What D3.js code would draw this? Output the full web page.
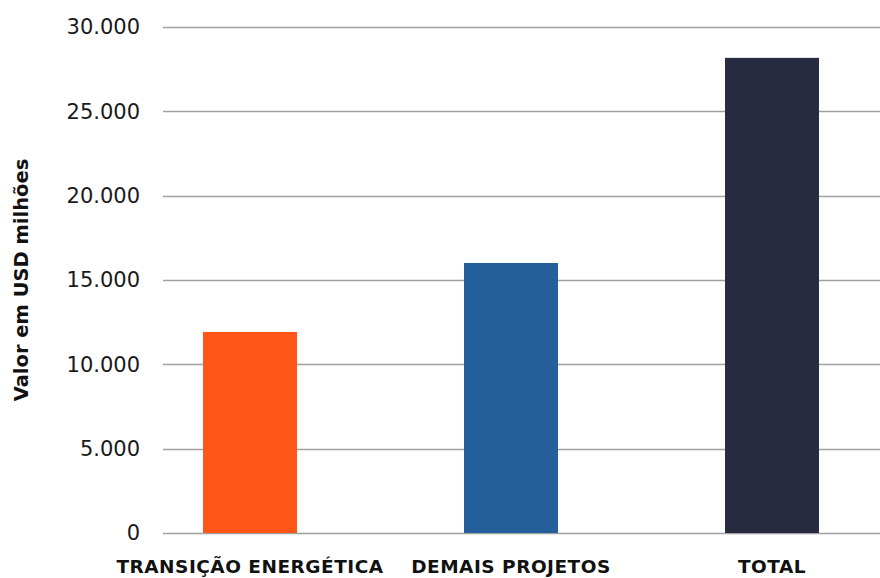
<!DOCTYPE html>
<html>
<head>
<meta charset="utf-8">
<script src="https://cdn.jsdelivr.net/npm/d3@7"></script>
<style>
  body { margin: 0; background: #fff; }
  svg { display: block; font-family: "DejaVu Sans", sans-serif; }
</style>
</head>
<body>
<svg id="chart" width="880" height="578"></svg>
<script>
const categories = ['TRANSIÇÃO ENERGÉTICA', 'DEMAIS PROJETOS', 'TOTAL'];
const values = [11920, 16010, 28170];
const colors = ['#ff5516', '#245e9b', '#262b40'];
const yTicks = [0, 5000, 10000, 15000, 20000, 25000, 30000];

const svg = d3.select('#chart');

const y = d3.scaleLinear().domain([0, 30000]).range([533, 27]);
const x = d3.scaleBand()
  .domain(categories)
  .range([119.5, 902.5])
  .paddingInner(0.64)
  .paddingOuter(0.32);

const fmt = d3.formatLocale({ decimal: ',', thousands: '.', grouping: [3], currency: ['', ''] }).format(',.0f');

// gridlines
svg.append('g')
  .selectAll('line')
  .data(yTicks)
  .join('line')
  .attr('x1', 163)
  .attr('x2', 880)
  .attr('y1', d => Math.round(y(d)) + 0.5)
  .attr('y2', d => Math.round(y(d)) + 0.5)
  .attr('stroke', '#a0a0a0')
  .attr('stroke-width', 1.3);

// y tick labels
svg.append('g')
  .selectAll('text')
  .data(yTicks)
  .join('text')
  .attr('x', 140)
  .attr('y', d => y(d))
  .attr('dy', '0.35em')
  .attr('text-anchor', 'end')
  .attr('font-size', 21)
  .attr('fill', '#1a1a1a')
  .text(d => fmt(d));

// bars
svg.append('g')
  .selectAll('rect')
  .data(values)
  .join('rect')
  .attr('x', (_, i) => x(categories[i]))
  .attr('width', x.bandwidth())
  .attr('y', d => y(d))
  .attr('height', d => y(0) - y(d))
  .attr('fill', (_, i) => colors[i]);

// category labels
svg.append('g')
  .selectAll('text')
  .data(categories)
  .join('text')
  .attr('x', d => x(d) + x.bandwidth() / 2)
  .attr('y', 573)
  .attr('text-anchor', 'middle')
  .attr('font-size', 18.5)
  .attr('font-weight', 'bold')
  .attr('letter-spacing', 0.5)
  .attr('fill', '#111')
  .text(d => d);

// y axis title
svg.append('text')
  .attr('transform', 'translate(28,280) rotate(-90)')
  .attr('text-anchor', 'middle')
  .attr('font-size', 19.5)
  .attr('font-weight', 'bold')
  .attr('fill', '#111')
  .text('Valor em USD milhões');
</script>
</body>
</html>
